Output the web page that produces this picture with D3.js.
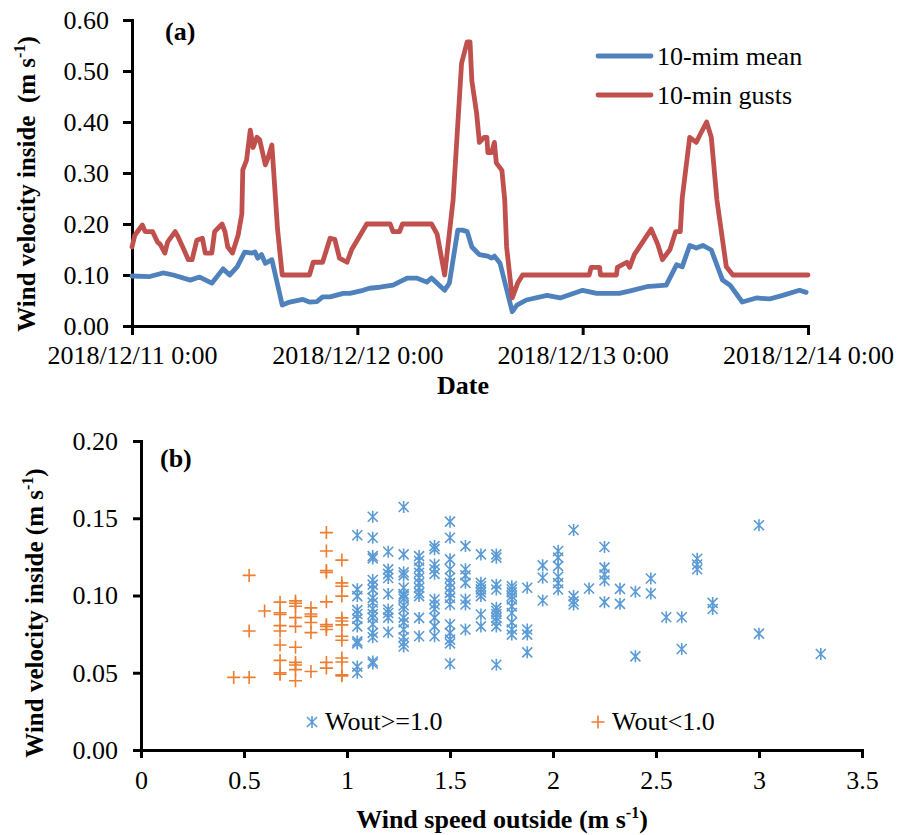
<!DOCTYPE html>
<html>
<head>
<meta charset="utf-8">
<script src="https://cdn.jsdelivr.net/npm/d3@7"></script>
<style>
  body { margin: 0; background: #fff; }
  svg { display: block; }
  svg text { font-family: "Liberation Serif", "Times New Roman", serif !important; fill: #000; }
</style>
</head>
<body>
<svg id="chart" width="898" height="835"></svg>
<script>
// (a) 10分値の時系列。[開始からの時間(h), 値]
const meanSeries = [
  [0.0, 0.098], [1.9, 0.097], [3.3, 0.104], [4.4, 0.100], [6.2, 0.090], [7.2, 0.096],
  [8.5, 0.084], [9.7, 0.112], [10.4, 0.100], [11.2, 0.116], [12.0, 0.145], [12.8, 0.143],
  [13.1, 0.145], [13.4, 0.133], [13.8, 0.140], [14.2, 0.123], [14.9, 0.130], [16.0, 0.041],
  [16.8, 0.047], [18.2, 0.052], [18.9, 0.047], [19.7, 0.048], [20.3, 0.057], [21.1, 0.057],
  [22.5, 0.064], [23.2, 0.064], [24.6, 0.070], [25.3, 0.074], [26.4, 0.076], [27.8, 0.080],
  [29.3, 0.094], [30.3, 0.094], [31.4, 0.086], [31.9, 0.094], [33.3, 0.070], [33.8, 0.084],
  [34.7, 0.188], [35.2, 0.188], [35.7, 0.185], [36.2, 0.155], [37.0, 0.140], [37.9, 0.137],
  [38.3, 0.133], [38.6, 0.137], [39.2, 0.123], [40.5, 0.028], [41.0, 0.041], [42.0, 0.051],
  [44.2, 0.060], [45.6, 0.055], [48.0, 0.070], [49.5, 0.064], [51.9, 0.064], [53.3, 0.070],
  [54.8, 0.077], [56.9, 0.080], [58.0, 0.120], [58.6, 0.116], [59.4, 0.158], [60.1, 0.153],
  [60.8, 0.158], [61.7, 0.149], [62.9, 0.090], [63.7, 0.080], [65.0, 0.047], [66.5, 0.055],
  [67.9, 0.053], [69.3, 0.060], [71.1, 0.070], [71.8, 0.066]
];

const gustSeries = [
  [0.0, 0.155], [0.3, 0.178], [1.1, 0.198], [1.4, 0.185], [2.2, 0.185], [2.7, 0.165],
  [3.0, 0.160], [3.5, 0.143], [3.8, 0.165], [4.6, 0.185], [4.9, 0.175], [5.4, 0.155],
  [6.0, 0.130], [6.4, 0.130], [6.9, 0.168], [7.5, 0.172], [7.8, 0.143], [8.5, 0.143],
  [8.8, 0.185], [9.6, 0.200], [9.9, 0.185], [10.2, 0.155], [10.7, 0.143], [11.3, 0.178],
  [11.7, 0.220], [11.8, 0.306], [12.2, 0.325], [12.6, 0.384], [12.9, 0.350], [13.3, 0.370],
  [13.6, 0.365], [14.2, 0.316], [14.5, 0.330], [14.9, 0.355], [15.2, 0.273], [15.5, 0.190],
  [16.0, 0.100], [18.9, 0.100], [19.3, 0.125], [20.3, 0.125], [21.1, 0.172], [21.6, 0.170],
  [22.1, 0.133], [22.9, 0.125], [23.4, 0.150], [24.3, 0.178], [25.0, 0.200], [27.5, 0.200],
  [27.8, 0.185], [28.5, 0.185], [28.8, 0.200], [31.9, 0.200], [32.5, 0.180], [33.3, 0.100],
  [34.2, 0.247], [35.1, 0.515], [35.7, 0.557], [36.0, 0.557], [36.2, 0.480], [36.7, 0.418],
  [37.0, 0.360], [37.5, 0.370], [37.8, 0.370], [37.9, 0.340], [38.3, 0.340], [38.6, 0.360],
  [38.8, 0.320], [39.4, 0.305], [39.7, 0.247], [39.9, 0.155], [40.5, 0.055], [41.1, 0.085],
  [41.6, 0.100], [48.7, 0.100], [48.9, 0.115], [49.8, 0.115], [49.9, 0.100], [51.6, 0.100],
  [51.7, 0.115], [52.7, 0.125], [53.0, 0.115], [53.5, 0.140], [54.4, 0.165], [55.3, 0.190],
  [56.0, 0.160], [56.5, 0.130], [57.3, 0.150], [57.9, 0.185], [58.4, 0.185], [58.6, 0.250],
  [59.1, 0.325], [59.4, 0.370], [60.1, 0.360], [60.5, 0.375], [61.2, 0.400], [61.7, 0.370],
  [62.3, 0.247], [63.3, 0.116], [64.0, 0.100], [72.0, 0.100]
];

const seriesNames = ['10-mim mean', '10-min gusts'];
const dayTicks = [0, 1, 2, 3];
const velocityTicks = [0, 0.1, 0.2, 0.3, 0.4, 0.5, 0.6];

// (b) 散布図。[屋外風速, [屋内風速...]]
const highWind = [
  [1.05, [0.139, 0.104, 0.0996, 0.0905, 0.088, 0.0849, 0.080, 0.0703, 0.069, 0.054, 0.050]],
  [1.125, [0.151, 0.1374, 0.1255, 0.124, 0.110, 0.107, 0.104, 0.0985, 0.0955, 0.0913, 0.088, 0.0857, 0.0814, 0.0758, 0.073, 0.0573, 0.056]],
  [1.2, [0.1283, 0.1169, 0.114, 0.1113, 0.101, 0.0909, 0.0887, 0.0857, 0.0762]],
  [1.275, [0.1573, 0.1266, 0.115, 0.113, 0.105, 0.101, 0.0998, 0.098, 0.0935, 0.0913, 0.0857, 0.0826, 0.078, 0.073, 0.0696, 0.067]],
  [1.35, [0.1255, 0.1225, 0.118, 0.1147, 0.1115, 0.1082, 0.105, 0.1017, 0.0996, 0.0855, 0.0736]],
  [1.425, [0.132, 0.130, 0.1201, 0.117, 0.114, 0.0974, 0.0942, 0.0913, 0.0857, 0.080, 0.0736]],
  [1.5, [0.1478, 0.1374, 0.1234, 0.117, 0.1115, 0.1082, 0.105, 0.1017, 0.0985, 0.0942, 0.0812, 0.0758, 0.0714, 0.069, 0.0558]],
  [1.575, [0.132, 0.117, 0.113, 0.1082, 0.0974, 0.0942, 0.078]],
  [1.65, [0.1266, 0.1082, 0.106, 0.104, 0.102, 0.0996, 0.0877, 0.080]],
  [1.725, [0.1266, 0.1245, 0.107, 0.1039, 0.092, 0.090, 0.088, 0.0857, 0.0835, 0.080, 0.0552]],
  [1.8, [0.106, 0.104, 0.102, 0.0996, 0.0974, 0.093, 0.0887, 0.0826, 0.078, 0.0747]],
  [1.875, [0.105, 0.078, 0.0747, 0.0632]],
  [1.95, [0.1195, 0.1115, 0.0968]],
  [2.025, [0.1288, 0.1245, 0.119, 0.1121, 0.108, 0.1039]],
  [2.1, [0.1424, 0.0996, 0.0963, 0.0942]],
  [2.175, [0.1045]],
  [2.25, [0.1314, 0.118, 0.1136, 0.1097, 0.0957]],
  [2.325, [0.1043, 0.0946]],
  [2.4, [0.1024, 0.0606]],
  [2.475, [0.111, 0.1013]],
  [2.55, [0.0859]],
  [2.625, [0.0859, 0.0654]],
  [2.7, [0.1238, 0.1201, 0.117]],
  [2.775, [0.0952, 0.0913]],
  [3.0, [0.1455, 0.0753]],
  [3.3, [0.0621]]
];

const lowWind = [
  [0.45, [0.047]],
  [0.525, [0.113, 0.077, 0.047]],
  [0.6, [0.090]],
  [0.675, [0.0957, 0.0888, 0.0877, 0.0805, 0.077, 0.068, 0.058, 0.050, 0.049]],
  [0.75, [0.0965, 0.095, 0.093, 0.0857, 0.080, 0.0665, 0.0567, 0.055, 0.052, 0.0448]],
  [0.825, [0.092, 0.088, 0.0865, 0.0825, 0.076, 0.0508]],
  [0.9, [0.1407, 0.1288, 0.1162, 0.115, 0.0959, 0.0812, 0.080, 0.078, 0.0567, 0.053]],
  [0.975, [0.1229, 0.1082, 0.106, 0.0996, 0.0855, 0.0835, 0.081, 0.0736, 0.071, 0.0595, 0.057, 0.0487, 0.048]]
];

const groupNames = ['Wout>=1.0', 'Wout<1.0'];
const speedTicks = [0, 0.5, 1, 1.5, 2, 2.5, 3, 3.5];
const insideTicks = [0, 0.05, 0.1, 0.15, 0.2];

const lineColors = ['#4F81BD', '#C0504D'];
const dotColors = ['#5B9BD5', '#ED7D31'];
const serif = '"Liberation Serif", "Times New Roman", serif';

const svg = d3.select('#chart');
const start = new Date(2018, 11, 11, 0, 0);
const atHour = h => d3.timeMinute.offset(start, Math.round(h * 60));

const styleAxis = g => {
  g.attr('font-family', serif).attr('font-size', 26);
  g.selectAll('.domain').attr('stroke', '#000').attr('stroke-width', 3);
  g.selectAll('.tick line').attr('stroke', '#000').attr('stroke-width', 3);
  g.selectAll('.tick text').attr('fill', '#000');
};

// ---------- (a) ----------
const xA = d3.scaleTime()
  .domain([start, d3.timeDay.offset(start, 3)])
  .range([132, 808]);
const yA = d3.scaleLinear().domain([0, 0.6]).range([326, 20]);

svg.append('g')
  .attr('transform', 'translate(0,326)')
  .call(d3.axisBottom(xA)
    .tickValues(dayTicks.map(d => d3.timeDay.offset(start, d)))
    .tickFormat(d3.timeFormat('%Y/%m/%d %-H:%M'))
    .tickSizeOuter(0).tickSize(9).tickPadding(11))
  .call(styleAxis);

svg.append('g')
  .attr('transform', 'translate(132,0)')
  .call(d3.axisLeft(yA).tickValues(velocityTicks).tickFormat(d3.format('.2f'))
    .tickSizeOuter(0).tickSize(9).tickPadding(14))
  .call(styleAxis);

const lineA = d3.line()
  .x(d => xA(atHour(d[0])))
  .y(d => yA(d[1]));

[meanSeries, gustSeries].forEach((series, i) => {
  svg.append('path')
    .datum(series)
    .attr('fill', 'none')
    .attr('stroke', lineColors[i])
    .attr('stroke-width', 4.8)
    .attr('stroke-linejoin', 'round')
    .attr('stroke-linecap', 'round')
    .attr('d', lineA);
});

// 凡例
const legA = svg.append('g');
seriesNames.forEach((name, i) => {
  const y = 56 + i * 39;
  legA.append('line')
    .attr('x1', 598).attr('x2', 651).attr('y1', y).attr('y2', y)
    .attr('stroke', lineColors[i]).attr('stroke-width', 4.8)
    .attr('stroke-linecap', 'round');
  legA.append('text')
    .attr('x', 657).attr('y', y + 9)
    .style('font-size', '26px')
    .text(name);
});

svg.append('text').attr('x', 165).attr('y', 40)
  .style('font-size', '26px').style('font-weight', 'bold').text('(a)');

svg.append('text')
  .attr('transform', 'translate(35,184) rotate(-90)')
  .attr('text-anchor', 'middle')
  .style('font-size', '25px').style('font-weight', 'bold')
  .html('Wind velocity inside\u00a0 (m s<tspan dy="-10" font-size="16">-1</tspan><tspan dy="10">)</tspan>');

svg.append('text').attr('x', 463).attr('y', 394)
  .attr('text-anchor', 'middle')
  .style('font-size', '26px').style('font-weight', 'bold').text('Date');

// ---------- (b) ----------
const xB = d3.scaleLinear().domain([0, 3.5]).range([141, 862]);
const yB = d3.scaleLinear().domain([0, 0.2]).range([750, 441]);

svg.append('g')
  .attr('transform', 'translate(0,750)')
  .call(d3.axisBottom(xB).tickValues(speedTicks).tickFormat(d => String(d))
    .tickSizeOuter(0).tickSize(8).tickPadding(13))
  .call(styleAxis);

svg.append('g')
  .attr('transform', 'translate(141,0)')
  .call(d3.axisLeft(yB).tickValues(insideTicks).tickFormat(d3.format('.2f'))
    .tickSizeOuter(0).tickSize(8).tickPadding(15))
  .call(styleAxis);

const starPath = 'M-5,-5L5,5M-5,5L5,-5M0,-6L0,6';
const plusPath = 'M-6.5,0H6.5M0,-6.5V6.5';
const markers = [starPath, plusPath];

const flatten = groups => groups.flatMap(([x, ys]) => ys.map(y => [x, y]));

[highWind, lowWind].forEach((groups, i) => {
  svg.append('g')
    .selectAll('path')
    .data(flatten(groups))
    .join('path')
    .attr('transform', d => `translate(${xB(d[0])},${yB(d[1])})`)
    .attr('d', markers[i])
    .attr('fill', 'none')
    .attr('stroke', dotColors[i])
    .attr('stroke-width', 1.6);
});

// 凡例
const legB = [[312, 325], [598, 612]];
groupNames.forEach((name, i) => {
  svg.append('path')
    .attr('transform', `translate(${legB[i][0]},722)`)
    .attr('d', markers[i])
    .attr('fill', 'none')
    .attr('stroke', dotColors[i])
    .attr('stroke-width', 1.6);
  svg.append('text').attr('x', legB[i][1]).attr('y', 730)
    .style('font-size', '26px').text(name);
});

svg.append('text').attr('x', 160).attr('y', 467)
  .style('font-size', '26px').style('font-weight', 'bold').text('(b)');

svg.append('text')
  .attr('transform', 'translate(43,613) rotate(-90)')
  .attr('text-anchor', 'middle')
  .style('font-size', '25px').style('font-weight', 'bold')
  .html('Wind velocity inside (m s<tspan dy="-10" font-size="16">-1</tspan><tspan dy="10">)</tspan>');

svg.append('text').attr('x', 502).attr('y', 828)
  .attr('text-anchor', 'middle')
  .style('font-size', '26px').style('font-weight', 'bold')
  .html('Wind speed outside (m s<tspan dy="-10" font-size="16">-1</tspan><tspan dy="10">)</tspan>');
</script>
</body>
</html>
